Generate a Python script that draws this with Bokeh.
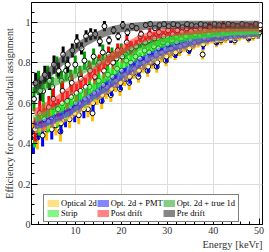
from bokeh.plotting import figure
from bokeh.models import (ColumnDataSource, Legend, LegendItem, Title, CustomJSTickFormatter,
                          FixedTicker, Range1d)
from bokeh.transform import dodge
from bokeh.embed import file_html
from bokeh.resources import INLINE

# ---------------- data ----------------
energy = list(range(1, 51))

opt_pts = [0.45,0.43,0.50,0.47,0.52,0.49,0.46,0.54,0.52,0.56,0.54,0.59,0.57,0.55,0.63,0.61,0.66,0.64,0.69,0.67,
           0.72,0.70,0.75,0.73,0.78,0.76,0.80,0.78,0.83,0.81,0.85,0.84,0.86,0.88,0.86,0.89,0.90,0.84,0.91,0.92,
           0.90,0.91,0.92,0.93,0.91,0.93,0.94,0.92,0.93,0.94]
pmt_pts = [0.41,0.48,0.44,0.52,0.47,0.55,0.50,0.53,0.58,0.55,0.60,0.57,0.63,0.60,0.66,0.64,0.68,0.67,0.71,0.70,
           0.74,0.73,0.77,0.76,0.80,0.78,0.82,0.80,0.85,0.83,0.87,0.85,0.88,0.89,0.87,0.90,0.91,0.89,0.92,0.93,
           0.91,0.93,0.94,0.92,0.93,0.95,0.94,0.93,0.95,0.94]
true_pts = [0.62,0.70,0.66,0.73,0.68,0.78,0.71,0.76,0.72,0.79,0.74,0.81,0.77,0.83,0.79,0.85,0.80,0.84,0.82,0.86,
            0.84,0.87,0.86,0.90,0.88,0.91,0.89,0.92,0.90,0.93,0.92,0.93,0.94,0.92,0.95,0.94,0.93,0.95,0.96,0.94,
            0.95,0.96,0.95,0.96,0.97,0.95,0.96,0.965,0.95,0.96]
strip_pts = [0.44,0.50,0.55,0.51,0.58,0.53,0.60,0.57,0.63,0.60,0.66,0.62,0.68,0.65,0.71,0.69,0.74,0.73,0.77,0.76,
             0.81,0.80,0.83,0.82,0.86,0.85,0.88,0.87,0.90,0.89,0.91,0.90,0.92,0.93,0.91,0.94,0.93,0.92,0.94,0.95,
             0.93,0.95,0.94,0.96,0.95,0.94,0.96,0.95,0.96,0.95]
post_pts = [0.47,0.55,0.52,0.58,0.62,0.57,0.66,0.61,0.70,0.65,0.72,0.68,0.76,0.73,0.80,0.76,0.84,0.80,0.86,0.83,
            0.90,0.87,0.88,0.93,0.90,0.94,0.92,0.95,0.93,0.96,0.94,0.96,0.95,0.97,0.955,0.965,0.97,0.96,0.975,0.965,
            0.97,0.98,0.965,0.975,0.97,0.98,0.97,0.975,0.98,0.97]
pre_pts = [0.70,0.66,0.74,0.71,0.79,0.76,0.84,0.79,0.86,0.905,0.87,0.93,0.94,0.94,0.905,0.98,0.91,0.96,0.93,0.985,
           0.95,0.98,0.97,0.94,0.985,0.99,0.97,0.985,0.99,0.98,0.99,0.985,0.975,0.99,0.985,0.98,0.99,0.985,0.975,0.99,
           0.985,0.98,0.99,0.985,0.98,0.99,0.985,0.975,0.99,0.985]

err_low = [0.06,0.06,0.055,0.055,0.05,0.05,0.05,0.05,0.045,0.045,0.045,0.045,0.04,0.04,0.04,0.04,0.04,0.035,0.035,0.035,
           0.035,0.035,0.03,0.03,0.03,0.03,0.03,0.03,0.028,0.028,0.028,0.027,0.027,0.026,0.026,0.025,0.025,0.025,0.025,0.024,
           0.024,0.024,0.023,0.023,0.023,0.022,0.022,0.022,0.022,0.021]
err_pre = [0.05,0.05,0.045,0.045,0.045,0.04,0.04,0.04,0.035,0.035,0.03,0.03,0.03,0.025,0.025,0.025,0.02,0.02,0.02,0.02,
           0.018,0.016,0.015,0.015,0.014,0.013,0.012,0.012,0.012,0.011,0.011,0.011,0.01,0.01,0.01,0.01,0.01,0.01,0.01,0.01,
           0.01,0.01,0.01,0.01,0.01,0.01,0.01,0.01,0.01,0.01]

fit_energy = [1,3,5,8,10,12,14,16,18,20,22,24,26,28,30,33,36,40,45,50]
opt_fit = [0.47,0.48,0.50,0.53,0.56,0.59,0.62,0.65,0.685,0.72,0.75,0.78,0.805,0.83,0.85,0.875,0.895,0.915,0.93,0.94]
pmt_fit = [0.49,0.50,0.52,0.55,0.58,0.61,0.64,0.67,0.705,0.74,0.77,0.80,0.825,0.85,0.87,0.89,0.91,0.925,0.94,0.95]
true_fit = [0.66,0.68,0.70,0.725,0.745,0.77,0.79,0.81,0.83,0.845,0.86,0.88,0.895,0.905,0.915,0.93,0.94,0.95,0.957,0.96]
strip_fit = [0.52,0.54,0.56,0.59,0.62,0.65,0.68,0.72,0.755,0.79,0.82,0.85,0.87,0.89,0.905,0.92,0.935,0.945,0.955,0.96]
post_fit = [0.55,0.575,0.60,0.645,0.68,0.71,0.75,0.79,0.83,0.86,0.89,0.915,0.93,0.94,0.95,0.955,0.96,0.968,0.973,0.975]
pre_fit = [0.68,0.72,0.765,0.83,0.87,0.90,0.925,0.945,0.96,0.97,0.975,0.98,0.983,0.985,0.986,0.987,0.987,0.987,0.987,0.987]

names = ["Optical 2d", "Opt. 2d + PMT", "Opt. 2d + true 1d", "Strip", "Post drift", "Pre drift"]
x_ticks = [10, 20, 30, 40, 50]
y_ticks = [0, 0.2, 0.4, 0.6, 0.8, 1.0]
x_title = "Energy [keVr]"
y_title = "Efficiency for correct head/tail assignment"

# ---------------- styles ----------------
bar_colors = ["#ffbb00", "#0000ff", "#009900", "#00e000", "#ff0000", "#000000"]
band_colors = ["#ffcc33", "#3333ff", "#33aa33", "#33ee33", "#ff3333", "#333333"]
offsets = [-0.3, -0.18, -0.06, 0.06, 0.18, 0.3]
FONT = "Liberation Serif"

series = [
    (opt_pts, err_low, opt_fit),
    (pmt_pts, err_low, pmt_fit),
    (true_pts, err_low, true_fit),
    (strip_pts, err_low, strip_fit),
    (post_pts, err_low, post_fit),
    (pre_pts, err_pre, pre_fit),
]

p = figure(width=269, height=252, output_backend="svg", toolbar_location=None,
           x_range=Range1d(0.4, 50.75), y_range=Range1d(0, 1.097),
           min_border_left=29, min_border_right=7, min_border_top=2, min_border_bottom=28)
p.outline_line_color = "black"
p.outline_line_width = 1
p.background_fill_color = "white"

# error bars + markers
for i, (pts, err, fit) in enumerate(series):
    src = ColumnDataSource(dict(
        x=energy, y=pts,
        lo=[v - e for v, e in zip(pts, err)],
        hi=[v + e for v, e in zip(pts, err)]))
    p.segment(x0=dodge("x", offsets[i]), y0="lo", x1=dodge("x", offsets[i]), y1="hi",
              source=src, line_color=bar_colors[i], line_width=3)
    p.scatter(x=dodge("x", offsets[i]), y="y", source=src, size=5, fill_color="white",
              line_color="black", line_width=1)

# fitted bands
band_r = []
for i, (pts, err, fit) in enumerate(series):
    band_r.append(p.line(fit_energy, fit, line_color=band_colors[i], line_width=8, line_alpha=0.6))

# legend: column-major fill, so order to give rows as in the reference
order = [0, 3, 1, 4, 2, 5]
items = [LegendItem(label=names[k], renderers=[band_r[k]]) for k in order]
legend = Legend(items=items, ncols=3, location=(12, 2),
                label_text_font=FONT, label_text_font_size="8.5px", label_text_color="black",
                glyph_width=12, glyph_height=7, label_height=9, label_standoff=2,
                spacing=0, padding=3, margin=0, border_line_color="black", border_line_width=1,
                background_fill_alpha=1, item_background_fill_alpha=0)
p.add_layout(legend, "center")

# axes
p.xaxis.ticker = FixedTicker(ticks=x_ticks, minor_ticks=list(range(2, 51, 2)))
p.yaxis.ticker = FixedTicker(ticks=y_ticks, minor_ticks=[k * 0.05 for k in range(0, 22)])
p.yaxis.formatter = CustomJSTickFormatter(code="return String(Math.round(tick*10)/10);")
for ax in (p.xaxis[0], p.yaxis[0]):
    ax.major_tick_in = 6
    ax.major_tick_out = 0
    ax.minor_tick_in = 3
    ax.minor_tick_out = 0
    ax.axis_line_color = "black"
    ax.major_tick_line_color = "black"
    ax.minor_tick_line_color = "black"
    ax.major_label_text_font = FONT
    ax.major_label_text_font_size = "10px"
    ax.major_label_text_color = "#333333"
    ax.major_label_standoff = 2
p.yaxis.major_label_standoff = 1

p.yaxis.axis_label = y_title
p.yaxis.axis_label_text_font = FONT
p.yaxis.axis_label_text_font_size = "10px"
p.yaxis.axis_label_text_font_style = "normal"
p.yaxis.axis_label_text_color = "#333333"
p.yaxis.axis_label_standoff = 0

p.xgrid.grid_line_color = "#dddddd"
p.ygrid.grid_line_color = "#dddddd"
p.xgrid.ticker = FixedTicker(ticks=x_ticks)
p.ygrid.ticker = FixedTicker(ticks=y_ticks)

p.add_layout(Title(text=x_title, align="right", text_font=FONT, text_font_size="10.5px",
                   text_font_style="normal", text_color="#333333", standoff=0, offset=0),
             "below")

open("out.html", "w").write(file_html(p, INLINE))
